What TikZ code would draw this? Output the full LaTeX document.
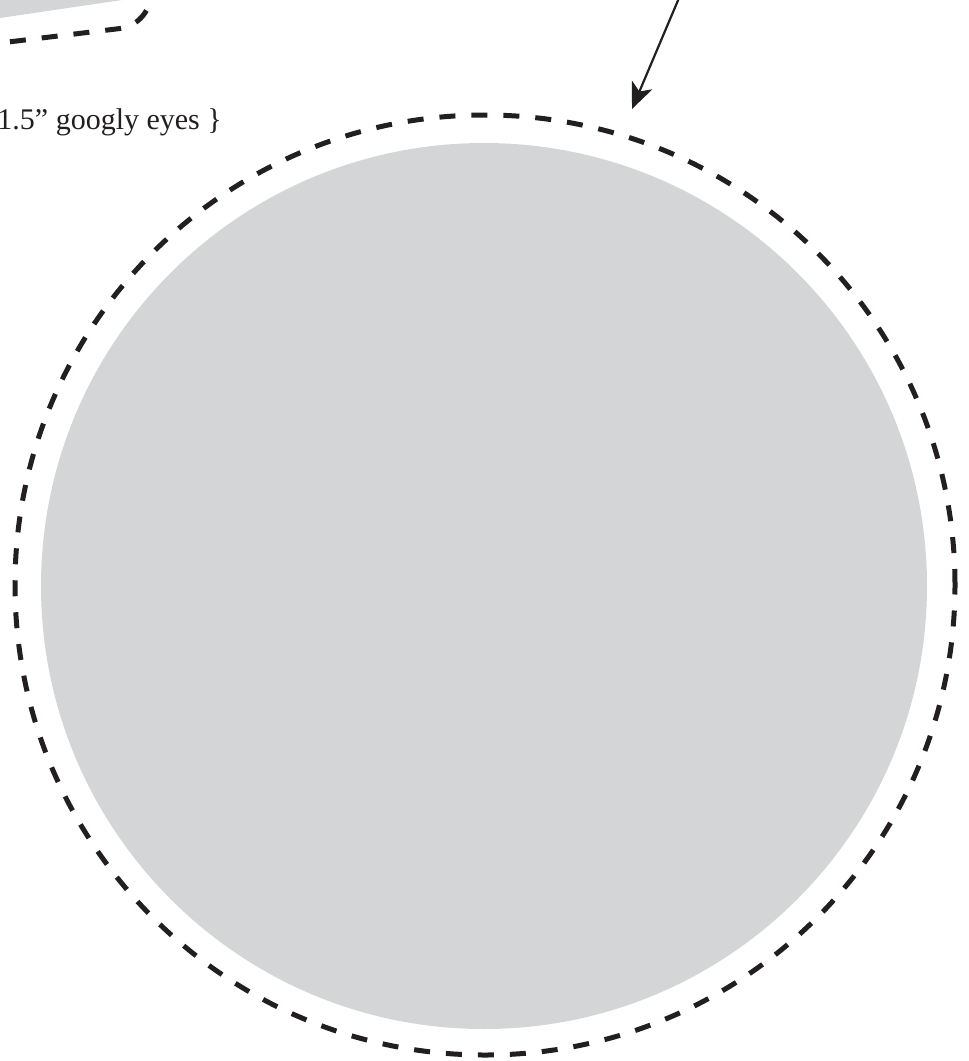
\documentclass[tikz,border=0pt]{standalone}
\usepackage{fontspec}
\setmainfont{Liberation Serif}
\usetikzlibrary{arrows.meta}
\definecolor{ink}{HTML}{231F20}
\definecolor{paper}{HTML}{D4D5D7}
\tikzset{
  cutline/.style={draw=ink, line width=5pt, dash pattern=on 16pt off 16pt},
  label/.style={text=ink, font=\fontsize{30}{34}\selectfont, inner sep=0pt},
}
\begin{document}
\begin{tikzpicture}[x=1pt,y=-1pt]
\useasboundingbox (0,0) rectangle (969,1061);
\clip (0,0) rectangle (969,1061);
% top-left partial shape
\fill[paper] (0,-10) -- (200,-10) -- (122,0) -- (0,18) -- cycle;
\coordinate (c0) at (0,43);
\coordinate (c1) at (116,29);
\coordinate (c2) at (152,-2);
\draw[cutline, dash phase=22pt] (c0) -- (c1) .. controls (136,27) and (146,16) .. (c2);
% label
\node[label, anchor=base east] (lbl) at (222,129) {1.5” googly eyes \}};
% circles
\node[circle, fill=paper, minimum size=886pt, inner sep=0pt] (disc) at (484,586) {};
\node[circle, cutline, minimum size=940pt, inner sep=0pt] (cut) at (485,585) {};
% arrow
\coordinate (a0) at (679,-2);
\coordinate (tip) at (632,109);
\draw[ink, line width=2.2pt, -{Stealth[length=26pt,width=22pt,inset=7pt]}] (a0) -- (tip);
\end{tikzpicture}
\end{document}
